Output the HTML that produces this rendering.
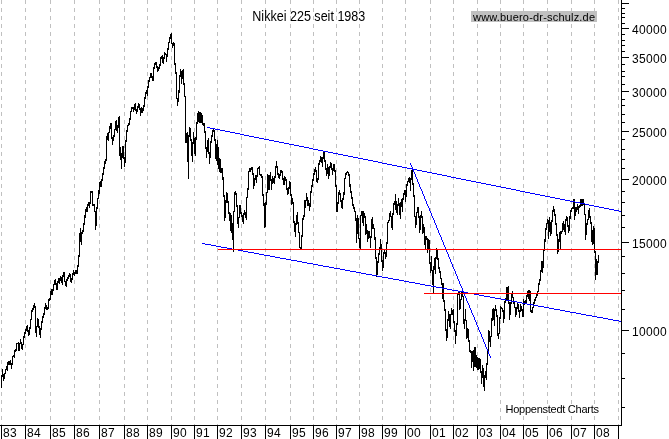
<!DOCTYPE html>
<html lang="de">
<head>
<meta charset="utf-8">
<title>Nikkei 225 seit 1983</title>
<style>
html,body{margin:0;padding:0;background:#fff;}
body{width:669px;height:439px;overflow:hidden;position:relative;}
svg{position:absolute;left:0;top:0;display:block;}
text{font-family:"Liberation Sans", Arial, Helvetica, sans-serif;fill:#000;}
</style>
</head>
<body>
<svg width="669" height="439" viewBox="0 0 669 439">
<defs><filter id="gray" x="0" y="0" width="669" height="439" filterUnits="userSpaceOnUse" color-interpolation-filters="sRGB"><feColorMatrix type="saturate" values="0"/></filter></defs>
<rect x="0" y="0" width="669" height="439" fill="#fff"/>
<g stroke="#c0c0c0" stroke-width="1" stroke-dasharray="4 4" shape-rendering="crispEdges">
<line x1="1.5" y1="0" x2="1.5" y2="425"/>
<line x1="25.5" y1="0" x2="25.5" y2="425"/>
<line x1="50.5" y1="0" x2="50.5" y2="425"/>
<line x1="74.5" y1="0" x2="74.5" y2="425"/>
<line x1="99.5" y1="0" x2="99.5" y2="425"/>
<line x1="124.5" y1="0" x2="124.5" y2="425"/>
<line x1="147.5" y1="0" x2="147.5" y2="425"/>
<line x1="171.5" y1="0" x2="171.5" y2="425"/>
<line x1="194.5" y1="0" x2="194.5" y2="425"/>
<line x1="217.5" y1="0" x2="217.5" y2="425"/>
<line x1="241.5" y1="0" x2="241.5" y2="425"/>
<line x1="265.5" y1="0" x2="265.5" y2="425"/>
<line x1="290.5" y1="0" x2="290.5" y2="425"/>
<line x1="313.5" y1="0" x2="313.5" y2="425"/>
<line x1="336.5" y1="0" x2="336.5" y2="425"/>
<line x1="359.5" y1="0" x2="359.5" y2="425"/>
<line x1="382.5" y1="0" x2="382.5" y2="425"/>
<line x1="405.5" y1="0" x2="405.5" y2="425"/>
<line x1="430.5" y1="0" x2="430.5" y2="425"/>
<line x1="453.5" y1="0" x2="453.5" y2="425"/>
<line x1="477.5" y1="0" x2="477.5" y2="425"/>
<line x1="500.5" y1="0" x2="500.5" y2="425"/>
<line x1="523.5" y1="0" x2="523.5" y2="425"/>
<line x1="547.5" y1="0" x2="547.5" y2="425"/>
<line x1="571.5" y1="0" x2="571.5" y2="425"/>
<line x1="594.5" y1="0" x2="594.5" y2="425"/>
<line x1="618.5" y1="0" x2="618.5" y2="425"/>
</g>
<rect x="252" y="11" width="37" height="13" fill="#fff"/>
<rect x="291" y="11" width="21" height="13" fill="#fff"/>
<rect x="314" y="11" width="21" height="13" fill="#fff"/>
<rect x="338" y="11" width="28" height="13" fill="#fff"/>
<rect x="504" y="404" width="96" height="12" fill="#fff"/>
<rect x="471" y="11" width="126" height="11" fill="#c0c0c0"/>
<path d="M1.5 375 V388 M2.5 369 V377 M3.5 374 V381 M4.5 373 V379 M5.5 369 V374 M6.5 366 V370 M7.5 362 V371 M8.5 361 V365 M9.5 361 V365 M10.5 360 V365 M11.5 363 V369 M12.5 356 V365 M13.5 355 V357 M14.5 350 V358 M15.5 349 V352 M16.5 343 V351 M17.5 343 V344 M18.5 342 V351 M19.5 343 V351 M20.5 339 V344 M21.5 342 V349 M22.5 344 V350 M23.5 336 V345 M24.5 332 V338 M25.5 329 V334 M26.5 326 V331 M27.5 325 V332 M28.5 330 V336 M29.5 327 V335 M30.5 319 V329 M31.5 310 V320 M32.5 308 V312 M33.5 305 V310 M34.5 303 V308 M35.5 306 V333 M36.5 326 V337 M37.5 318 V327 M38.5 319 V328 M39.5 326 V335 M40.5 328 V338 M41.5 321 V330 M42.5 316 V323 M43.5 313 V318 M44.5 307 V315 M45.5 303 V309 M46.5 305 V310 M47.5 307 V310 M48.5 299 V309 M49.5 298 V301 M50.5 291 V300 M51.5 289 V295 M52.5 289 V295 M53.5 284 V291 M54.5 280 V285 M55.5 279 V285 M56.5 283 V290 M57.5 281 V290 M58.5 278 V283 M59.5 278 V284 M60.5 276 V281 M61.5 277 V283 M62.5 275 V285 M63.5 272 V277 M64.5 272 V282 M65.5 281 V286 M66.5 279 V287 M67.5 277 V281 M68.5 275 V279 M69.5 273 V277 M70.5 274 V282 M71.5 278 V283 M72.5 273 V280 M73.5 270 V275 M74.5 272 V276 M75.5 270 V274 M76.5 270 V274 M77.5 265 V274 M78.5 255 V267 M79.5 233 V257 M80.5 228 V242 M81.5 232 V245 M82.5 230 V234 M83.5 223 V232 M84.5 215 V225 M85.5 209 V218 M86.5 207 V212 M87.5 204 V212 M88.5 202 V206 M89.5 202 V208 M90.5 191 V204 M91.5 191 V193 M92.5 191 V206 M93.5 204 V206 M94.5 204 V212 M95.5 211 V230 M96.5 207 V226 M97.5 198 V209 M98.5 190 V199 M99.5 182 V194 M100.5 181 V187 M101.5 179 V187 M102.5 173 V181 M103.5 167 V175 M104.5 161 V169 M105.5 159 V164 M106.5 136 V161 M107.5 133 V140 M108.5 132 V141 M109.5 126 V133 M110.5 123 V129 M111.5 123 V139 M112.5 137 V145 M113.5 135 V141 M114.5 129 V137 M115.5 121 V130 M116.5 120 V131 M117.5 125 V133 M118.5 117 V128 M119.5 116 V156 M120.5 147 V160 M121.5 153 V169 M122.5 146 V158 M123.5 146 V159 M124.5 157 V167 M125.5 140 V163 M126.5 130 V142 M127.5 125 V132 M128.5 123 V126 M129.5 118 V125 M130.5 111 V120 M131.5 107 V112 M132.5 107 V109 M133.5 107 V112 M134.5 104 V110 M135.5 103 V111 M136.5 109 V114 M137.5 106 V112 M138.5 103 V108 M139.5 104 V110 M140.5 108 V116 M141.5 107 V113 M142.5 108 V113 M143.5 105 V111 M144.5 97 V107 M145.5 92 V99 M146.5 90 V94 M147.5 86 V96 M148.5 80 V88 M149.5 77 V82 M150.5 73 V78 M151.5 73 V78 M152.5 76 V81 M153.5 67 V81 M154.5 63 V69 M155.5 62 V65 M156.5 62 V68 M157.5 66 V72 M158.5 67 V71 M159.5 64 V69 M160.5 57 V66 M161.5 56 V59 M162.5 55 V63 M163.5 57 V64 M164.5 52 V59 M165.5 53 V55 M166.5 54 V62 M167.5 48 V57 M168.5 42 V50 M169.5 37 V43 M170.5 34 V39 M171.5 33 V44 M172.5 43 V48 M173.5 42 V46 M174.5 43 V65 M175.5 63 V74 M176.5 72 V99 M177.5 98 V106 M178.5 90 V102 M179.5 75 V93 M180.5 69 V77 M181.5 71 V84 M182.5 70 V79 M183.5 69 V85 M184.5 83 V97 M185.5 96 V143 M186.5 133 V143 M187.5 132 V162 M188.5 135 V179 M189.5 127 V137 M190.5 128 V141 M191.5 139 V156 M192.5 142 V162 M193.5 132 V144 M194.5 138 V154 M195.5 137 V156 M196.5 122 V140 M197.5 113 V124 M198.5 111 V122 M199.5 112 V123 M200.5 112 V123 M201.5 113 V123 M202.5 115 V125 M203.5 123 V126 M204.5 123 V133 M205.5 131 V149 M206.5 147 V158 M207.5 140 V152 M208.5 138 V154 M209.5 152 V164 M210.5 141 V158 M211.5 135 V143 M212.5 130 V137 M213.5 129 V132 M214.5 130 V141 M215.5 139 V159 M216.5 144 V161 M217.5 140 V165 M218.5 147 V169 M219.5 158 V172 M220.5 159 V173 M221.5 168 V173 M222.5 168 V180 M223.5 177 V197 M224.5 195 V221 M225.5 200 V218 M226.5 192 V203 M227.5 193 V203 M228.5 201 V214 M229.5 212 V221 M230.5 213 V231 M231.5 215 V233 M232.5 223 V240 M233.5 211 V252 M234.5 192 V212 M235.5 191 V195 M236.5 193 V207 M237.5 205 V224 M238.5 217 V228 M239.5 205 V218 M240.5 205 V214 M241.5 212 V217 M242.5 215 V222 M243.5 213 V224 M244.5 210 V215 M245.5 212 V218 M246.5 197 V220 M247.5 188 V198 M248.5 171 V190 M249.5 168 V172 M250.5 168 V172 M251.5 167 V170 M252.5 167 V175 M253.5 173 V189 M254.5 178 V186 M255.5 175 V180 M256.5 175 V183 M257.5 168 V177 M258.5 167 V169 M259.5 166 V175 M260.5 174 V176 M261.5 174 V178 M262.5 176 V196 M263.5 194 V206 M264.5 203 V228 M265.5 202 V227 M266.5 192 V205 M267.5 174 V193 M268.5 175 V190 M269.5 175 V190 M270.5 172 V181 M271.5 179 V190 M272.5 176 V184 M273.5 178 V183 M274.5 176 V184 M275.5 166 V178 M276.5 161 V168 M277.5 166 V175 M278.5 173 V178 M279.5 174 V179 M280.5 170 V176 M281.5 170 V173 M282.5 171 V180 M283.5 178 V185 M284.5 176 V185 M285.5 177 V181 M286.5 179 V190 M287.5 188 V195 M288.5 187 V194 M289.5 181 V189 M290.5 182 V196 M291.5 194 V205 M292.5 198 V204 M293.5 202 V223 M294.5 221 V232 M295.5 223 V237 M296.5 215 V225 M297.5 212 V224 M298.5 222 V233 M299.5 232 V248 M300.5 247 V250 M301.5 235 V250 M302.5 218 V237 M303.5 215 V220 M304.5 200 V217 M305.5 200 V208 M306.5 193 V201 M307.5 197 V206 M308.5 200 V206 M309.5 203 V211 M310.5 191 V207 M311.5 185 V193 M312.5 179 V187 M313.5 173 V181 M314.5 169 V175 M315.5 167 V172 M316.5 170 V182 M317.5 178 V183 M318.5 163 V180 M319.5 160 V165 M320.5 156 V162 M321.5 157 V163 M322.5 157 V167 M323.5 151 V159 M324.5 152 V162 M325.5 160 V170 M326.5 168 V176 M327.5 164 V174 M328.5 167 V179 M329.5 166 V176 M330.5 162 V168 M331.5 163 V170 M332.5 168 V175 M333.5 164 V171 M334.5 164 V172 M335.5 170 V187 M336.5 185 V212 M337.5 202 V212 M338.5 192 V204 M339.5 190 V195 M340.5 193 V202 M341.5 200 V208 M342.5 198 V209 M343.5 192 V200 M344.5 178 V195 M345.5 173 V179 M346.5 172 V175 M347.5 171 V173 M348.5 172 V176 M349.5 174 V187 M350.5 184 V193 M351.5 191 V199 M352.5 197 V206 M353.5 204 V209 M354.5 207 V212 M355.5 211 V221 M356.5 218 V243 M357.5 215 V234 M358.5 218 V239 M359.5 238 V248 M360.5 215 V249 M361.5 211 V216 M362.5 211 V223 M363.5 211 V226 M364.5 213 V218 M365.5 216 V235 M366.5 224 V234 M367.5 230 V242 M368.5 231 V239 M369.5 231 V238 M370.5 236 V248 M371.5 219 V238 M372.5 217 V229 M373.5 224 V229 M374.5 228 V240 M375.5 237 V259 M376.5 257 V277 M377.5 261 V275 M378.5 253 V263 M379.5 247 V255 M380.5 239 V249 M381.5 244 V262 M382.5 260 V271 M383.5 252 V268 M384.5 250 V254 M385.5 252 V259 M386.5 242 V257 M387.5 222 V244 M388.5 220 V223 M389.5 213 V221 M390.5 211 V217 M391.5 216 V228 M392.5 213 V230 M393.5 203 V215 M394.5 201 V205 M395.5 194 V210 M396.5 201 V213 M397.5 204 V215 M398.5 198 V206 M399.5 203 V215 M400.5 202 V219 M401.5 199 V207 M402.5 198 V212 M403.5 193 V200 M404.5 190 V195 M405.5 190 V202 M406.5 184 V197 M407.5 181 V186 M408.5 178 V182 M409.5 177 V183 M410.5 178 V191 M411.5 170 V180 M412.5 169 V185 M413.5 183 V197 M414.5 195 V217 M415.5 216 V228 M416.5 212 V225 M417.5 207 V213 M418.5 207 V218 M419.5 216 V233 M420.5 215 V230 M421.5 211 V218 M422.5 216 V234 M423.5 224 V233 M424.5 227 V245 M425.5 236 V250 M426.5 236 V240 M427.5 238 V253 M428.5 239 V250 M429.5 240 V264 M430.5 262 V273 M431.5 256 V271 M432.5 270 V285 M433.5 266 V294 M434.5 258 V270 M435.5 257 V274 M436.5 248 V259 M437.5 249 V260 M438.5 258 V269 M439.5 267 V273 M440.5 271 V279 M441.5 278 V285 M442.5 283 V299 M443.5 283 V302 M444.5 300 V311 M445.5 309 V331 M446.5 329 V341 M447.5 319 V338 M448.5 311 V321 M449.5 314 V327 M450.5 314 V329 M451.5 308 V315 M452.5 310 V315 M453.5 309 V323 M454.5 321 V332 M455.5 330 V344 M456.5 323 V336 M457.5 294 V325 M458.5 292 V295 M459.5 291 V310 M460.5 299 V309 M461.5 291 V300 M462.5 290 V297 M463.5 296 V324 M464.5 319 V329 M465.5 309 V321 M466.5 320 V339 M467.5 328 V338 M468.5 329 V342 M469.5 340 V352 M470.5 350 V353 M471.5 351 V368 M472.5 351 V362 M473.5 350 V371 M474.5 347 V367 M475.5 347 V367 M476.5 355 V368 M477.5 357 V370 M478.5 358 V370 M479.5 358 V369 M480.5 359 V373 M481.5 371 V384 M482.5 365 V378 M483.5 368 V387 M484.5 375 V391 M485.5 371 V378 M486.5 363 V380 M487.5 350 V365 M488.5 330 V352 M489.5 331 V342 M490.5 336 V347 M491.5 318 V337 M492.5 309 V321 M493.5 308 V320 M494.5 309 V326 M495.5 305 V311 M496.5 309 V317 M497.5 315 V336 M498.5 333 V339 M499.5 317 V334 M500.5 306 V319 M501.5 307 V309 M502.5 308 V312 M503.5 310 V323 M504.5 301 V319 M505.5 298 V303 M506.5 287 V300 M507.5 287 V300 M508.5 286 V304 M509.5 302 V320 M510.5 302 V315 M511.5 293 V304 M512.5 291 V298 M513.5 297 V304 M514.5 302 V308 M515.5 307 V317 M516.5 307 V315 M517.5 303 V309 M518.5 304 V312 M519.5 310 V318 M520.5 304 V312 M521.5 306 V311 M522.5 309 V317 M523.5 299 V317 M524.5 301 V305 M525.5 300 V304 M526.5 295 V303 M527.5 291 V297 M528.5 290 V299 M529.5 290 V301 M530.5 291 V312 M531.5 310 V313 M532.5 307 V313 M533.5 302 V308 M534.5 299 V304 M535.5 297 V301 M536.5 294 V298 M537.5 291 V296 M538.5 283 V292 M539.5 279 V285 M540.5 270 V281 M541.5 261 V272 M542.5 261 V273 M543.5 249 V268 M544.5 239 V251 M545.5 228 V242 M546.5 223 V230 M547.5 219 V224 M548.5 220 V239 M549.5 217 V232 M550.5 222 V236 M551.5 220 V234 M552.5 210 V222 M553.5 206 V212 M554.5 209 V216 M555.5 214 V225 M556.5 223 V236 M557.5 234 V254 M558.5 239 V252 M559.5 232 V242 M560.5 231 V250 M561.5 231 V234 M562.5 223 V232 M563.5 221 V230 M564.5 224 V232 M565.5 219 V235 M566.5 216 V221 M567.5 217 V227 M568.5 225 V233 M569.5 216 V231 M570.5 210 V219 M571.5 208 V212 M572.5 207 V209 M573.5 199 V209 M574.5 199 V220 M575.5 207 V216 M576.5 207 V212 M577.5 204 V210 M578.5 206 V214 M579.5 205 V208 M580.5 199 V207 M581.5 199 V206 M582.5 199 V206 M583.5 199 V205 M584.5 203 V215 M585.5 214 V240 M586.5 223 V235 M587.5 219 V225 M588.5 210 V220 M589.5 208 V218 M590.5 216 V224 M591.5 222 V242 M592.5 230 V245 M593.5 226 V244 M594.5 228 V253 M595.5 251 V280 M596.5 259 V275 M597.5 261 V275 M598.5 255 V263" fill="none" stroke="#000" stroke-width="1" shape-rendering="crispEdges"/>
<g stroke="#0000ff" stroke-width="1" fill="none" shape-rendering="crispEdges">
<path d="M207 127.5H210 M210 128.5H215 M215 129.5H220 M220 130.5H225 M225 131.5H230 M230 132.5H235 M235 133.5H240 M240 134.5H244 M244 135.5H249 M249 136.5H254 M254 137.5H259 M259 138.5H264 M264 139.5H269 M269 140.5H274 M274 141.5H279 M279 142.5H284 M284 143.5H289 M289 144.5H294 M294 145.5H299 M299 146.5H304 M304 147.5H309 M309 148.5H313 M313 149.5H318 M318 150.5H323 M323 151.5H328 M328 152.5H333 M333 153.5H338 M338 154.5H343 M343 155.5H348 M348 156.5H353 M353 157.5H358 M358 158.5H363 M363 159.5H368 M368 160.5H373 M373 161.5H378 M378 162.5H382 M382 163.5H387 M387 164.5H392 M392 165.5H397 M397 166.5H402 M402 167.5H407 M407 168.5H412 M412 169.5H417 M417 170.5H422 M422 171.5H427 M427 172.5H432 M432 173.5H437 M437 174.5H442 M442 175.5H447 M447 176.5H451 M451 177.5H456 M456 178.5H461 M461 179.5H466 M466 180.5H471 M471 181.5H476 M476 182.5H481 M481 183.5H486 M486 184.5H491 M491 185.5H496 M496 186.5H501 M501 187.5H506 M506 188.5H511 M511 189.5H516 M516 190.5H520 M520 191.5H525 M525 192.5H530 M530 193.5H535 M535 194.5H540 M540 195.5H545 M545 196.5H550 M550 197.5H555 M555 198.5H560 M560 199.5H565 M565 200.5H570 M570 201.5H575 M575 202.5H580 M580 203.5H585 M585 204.5H589 M589 205.5H594 M594 206.5H599 M599 207.5H604 M604 208.5H609 M609 209.5H614 M614 210.5H619 M619 211.5H621"/>
<path d="M202 243.5H205 M205 244.5H211 M211 245.5H216 M216 246.5H221 M221 247.5H227 M227 248.5H232 M232 249.5H238 M238 250.5H243 M243 251.5H248 M248 252.5H254 M254 253.5H259 M259 254.5H264 M264 255.5H270 M270 256.5H275 M275 257.5H280 M280 258.5H286 M286 259.5H291 M291 260.5H297 M297 261.5H302 M302 262.5H307 M307 263.5H313 M313 264.5H318 M318 265.5H323 M323 266.5H329 M329 267.5H334 M334 268.5H340 M340 269.5H345 M345 270.5H350 M350 271.5H356 M356 272.5H361 M361 273.5H366 M366 274.5H372 M372 275.5H377 M377 276.5H382 M382 277.5H388 M388 278.5H393 M393 279.5H399 M399 280.5H404 M404 281.5H409 M409 282.5H415 M415 283.5H420 M420 284.5H425 M425 285.5H431 M431 286.5H436 M436 287.5H442 M442 288.5H447 M447 289.5H452 M452 290.5H458 M458 291.5H463 M463 292.5H468 M468 293.5H474 M474 294.5H479 M479 295.5H484 M484 296.5H490 M490 297.5H495 M495 298.5H501 M501 299.5H506 M506 300.5H511 M511 301.5H517 M517 302.5H522 M522 303.5H527 M527 304.5H533 M533 305.5H538 M538 306.5H544 M544 307.5H549 M549 308.5H554 M554 309.5H560 M560 310.5H565 M565 311.5H570 M570 312.5H576 M576 313.5H581 M581 314.5H586 M586 315.5H592 M592 316.5H597 M597 317.5H603 M603 318.5H608 M608 319.5H613 M613 320.5H619 M619 321.5H621"/>
<path d="M410.5 163V165 M411.5 165V167 M412.5 167V170 M413.5 170V172 M414.5 172V174 M415.5 174V177 M416.5 177V179 M417.5 179V182 M418.5 182V184 M419.5 184V187 M420.5 187V189 M421.5 189V191 M422.5 191V194 M423.5 194V196 M424.5 196V199 M425.5 199V201 M426.5 201V204 M427.5 204V206 M428.5 206V208 M429.5 208V211 M430.5 211V213 M431.5 213V216 M432.5 216V218 M433.5 218V220 M434.5 220V223 M435.5 223V225 M436.5 225V228 M437.5 228V230 M438.5 230V233 M439.5 233V235 M440.5 235V237 M441.5 237V240 M442.5 240V242 M443.5 242V245 M444.5 245V247 M445.5 247V250 M446.5 250V252 M447.5 252V254 M448.5 254V257 M449.5 257V259 M450.5 259V262 M451.5 262V264 M452.5 264V267 M453.5 267V269 M454.5 269V271 M455.5 271V274 M456.5 274V276 M457.5 276V279 M458.5 279V281 M459.5 281V284 M460.5 284V286 M461.5 286V288 M462.5 288V291 M463.5 291V293 M464.5 293V296 M465.5 296V298 M466.5 298V301 M467.5 301V303 M468.5 303V305 M469.5 305V308 M470.5 308V310 M471.5 310V313 M472.5 313V315 M473.5 315V317 M474.5 317V320 M475.5 320V322 M476.5 322V325 M477.5 325V327 M478.5 327V330 M479.5 330V332 M480.5 332V334 M481.5 334V337 M482.5 337V339 M483.5 339V342 M484.5 342V344 M485.5 344V347 M486.5 347V349 M487.5 349V351 M488.5 351V354 M489.5 354V356 M490.5 356V358"/>
</g>
<g stroke="#ff0000" stroke-width="1" shape-rendering="crispEdges">
<line x1="218" y1="249.5" x2="621" y2="249.5"/>
<line x1="424" y1="293.5" x2="621" y2="293.5"/>
</g>
<g stroke="#000" stroke-width="1" shape-rendering="crispEdges">
<line x1="0" y1="425.5" x2="622" y2="425.5"/>
<line x1="621.5" y1="0" x2="621.5" y2="426"/>
<line x1="1.5" y1="425" x2="1.5" y2="439"/>
<line x1="25.5" y1="425" x2="25.5" y2="439"/>
<line x1="50.5" y1="425" x2="50.5" y2="439"/>
<line x1="74.5" y1="425" x2="74.5" y2="439"/>
<line x1="99.5" y1="425" x2="99.5" y2="439"/>
<line x1="124.5" y1="425" x2="124.5" y2="439"/>
<line x1="147.5" y1="425" x2="147.5" y2="439"/>
<line x1="171.5" y1="425" x2="171.5" y2="439"/>
<line x1="194.5" y1="425" x2="194.5" y2="439"/>
<line x1="217.5" y1="425" x2="217.5" y2="439"/>
<line x1="241.5" y1="425" x2="241.5" y2="439"/>
<line x1="265.5" y1="425" x2="265.5" y2="439"/>
<line x1="290.5" y1="425" x2="290.5" y2="439"/>
<line x1="313.5" y1="425" x2="313.5" y2="439"/>
<line x1="336.5" y1="425" x2="336.5" y2="439"/>
<line x1="359.5" y1="425" x2="359.5" y2="439"/>
<line x1="382.5" y1="425" x2="382.5" y2="439"/>
<line x1="405.5" y1="425" x2="405.5" y2="439"/>
<line x1="430.5" y1="425" x2="430.5" y2="439"/>
<line x1="453.5" y1="425" x2="453.5" y2="439"/>
<line x1="477.5" y1="425" x2="477.5" y2="439"/>
<line x1="500.5" y1="425" x2="500.5" y2="439"/>
<line x1="523.5" y1="425" x2="523.5" y2="439"/>
<line x1="547.5" y1="425" x2="547.5" y2="439"/>
<line x1="571.5" y1="425" x2="571.5" y2="439"/>
<line x1="594.5" y1="425" x2="594.5" y2="439"/>
<line x1="618.5" y1="425" x2="618.5" y2="439"/>
<line x1="622" y1="3.5" x2="629" y2="3.5"/>
<line x1="622" y1="8.5" x2="625" y2="8.5"/>
<line x1="622" y1="13.5" x2="625" y2="13.5"/>
<line x1="622" y1="17.5" x2="625" y2="17.5"/>
<line x1="622" y1="23.5" x2="625" y2="23.5"/>
<line x1="622" y1="28.5" x2="629" y2="28.5"/>
<line x1="622" y1="34.5" x2="625" y2="34.5"/>
<line x1="622" y1="40.5" x2="625" y2="40.5"/>
<line x1="622" y1="45.5" x2="625" y2="45.5"/>
<line x1="622" y1="51.5" x2="625" y2="51.5"/>
<line x1="622" y1="57.5" x2="629" y2="57.5"/>
<line x1="622" y1="64.5" x2="625" y2="64.5"/>
<line x1="622" y1="71.5" x2="625" y2="71.5"/>
<line x1="622" y1="76.5" x2="625" y2="76.5"/>
<line x1="622" y1="84.5" x2="625" y2="84.5"/>
<line x1="622" y1="91.5" x2="629" y2="91.5"/>
<line x1="622" y1="99.5" x2="625" y2="99.5"/>
<line x1="622" y1="105.5" x2="625" y2="105.5"/>
<line x1="622" y1="114.5" x2="625" y2="114.5"/>
<line x1="622" y1="122.5" x2="625" y2="122.5"/>
<line x1="622" y1="131.5" x2="629" y2="131.5"/>
<line x1="622" y1="139.5" x2="625" y2="139.5"/>
<line x1="622" y1="149.5" x2="625" y2="149.5"/>
<line x1="622" y1="159.5" x2="625" y2="159.5"/>
<line x1="622" y1="168.5" x2="625" y2="168.5"/>
<line x1="622" y1="179.5" x2="629" y2="179.5"/>
<line x1="622" y1="191.5" x2="625" y2="191.5"/>
<line x1="622" y1="202.5" x2="625" y2="202.5"/>
<line x1="622" y1="215.5" x2="625" y2="215.5"/>
<line x1="622" y1="227.5" x2="625" y2="227.5"/>
<line x1="622" y1="242.5" x2="629" y2="242.5"/>
<line x1="622" y1="256.5" x2="625" y2="256.5"/>
<line x1="622" y1="273.5" x2="625" y2="273.5"/>
<line x1="622" y1="290.5" x2="625" y2="290.5"/>
<line x1="622" y1="309.5" x2="625" y2="309.5"/>
<line x1="622" y1="330.5" x2="629" y2="330.5"/>
<line x1="622" y1="353.5" x2="625" y2="353.5"/>
<line x1="622" y1="378.5" x2="625" y2="378.5"/>
<line x1="622" y1="407.5" x2="625" y2="407.5"/>
</g>
<g filter="url(#gray)">
<g font-size="12" letter-spacing="0.33">
<text x="3" y="437">83</text>
<text x="27" y="437">84</text>
<text x="52" y="437">85</text>
<text x="76" y="437">86</text>
<text x="101" y="437">87</text>
<text x="126" y="437">88</text>
<text x="149" y="437">89</text>
<text x="173" y="437">90</text>
<text x="196" y="437">91</text>
<text x="219" y="437">92</text>
<text x="243" y="437">93</text>
<text x="267" y="437">94</text>
<text x="292" y="437">95</text>
<text x="315" y="437">96</text>
<text x="338" y="437">97</text>
<text x="361" y="437">98</text>
<text x="384" y="437">99</text>
<text x="407" y="437">00</text>
<text x="432" y="437">01</text>
<text x="455" y="437">02</text>
<text x="479" y="437">03</text>
<text x="502" y="437">04</text>
<text x="525" y="437">05</text>
<text x="549" y="437">06</text>
<text x="573" y="437">07</text>
<text x="596" y="437">08</text>
<text x="632" y="34">40000</text>
<text x="632" y="63">35000</text>
<text x="632" y="97">30000</text>
<text x="632" y="137">25000</text>
<text x="632" y="185">20000</text>
<text x="632" y="248">15000</text>
<text x="632" y="336">10000</text>
</g>
<text x="252.3" y="21" font-size="14" textLength="113" lengthAdjust="spacingAndGlyphs">Nikkei 225 seit 1983</text>
<text x="473" y="20.5" font-size="11" textLength="122" lengthAdjust="spacing">www.buero-dr-schulz.de</text>
<text x="505.5" y="413" font-size="11" textLength="93.5" lengthAdjust="spacing">Hoppenstedt Charts</text>
</g>
</svg>
</body>
</html>
